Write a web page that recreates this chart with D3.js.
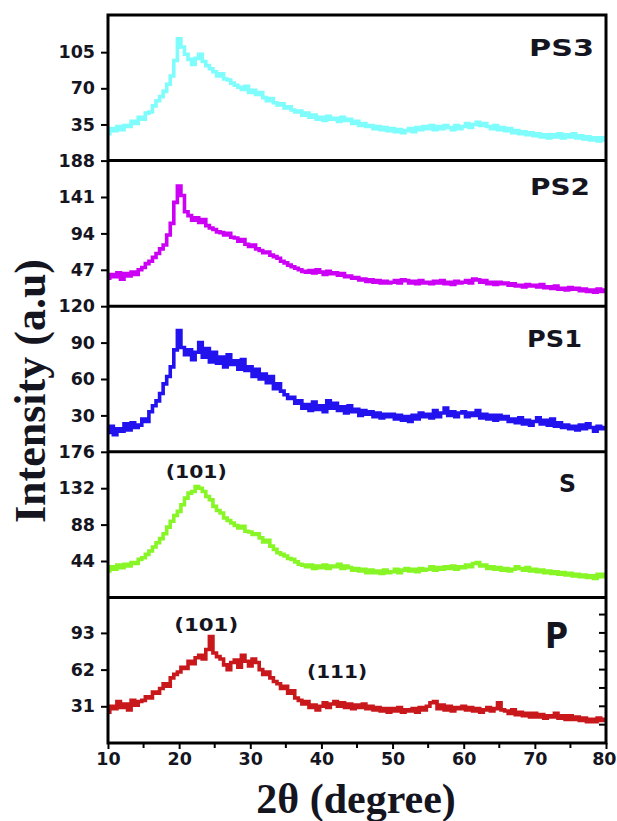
<!DOCTYPE html>
<html>
<head>
<meta charset="utf-8">
<script src="https://cdn.jsdelivr.net/npm/d3@7"></script>
<style>
  body { margin: 0; background: #fff; }
  text { fill: #15151f; }
</style>
</head>
<body>
<svg id="chart" width="617" height="821"></svg>
<script>
// 2-theta grid, 0.5 degree steps from 10 to 80
const twoTheta = d3.range(10, 80.001, 0.5);

// intensities, one value per 0.5 degree
const ps3 = [
  26,31,29,33,30,34,33,38,36,42, 40,46,47,53,58,62,67,74,82,97,
  118,110,103,98,93,99,103,96,92,89, 86,82,84,79,78,75,73,71,69,72,
  66,68,64,66,61,58,60,56,54,55, 51,52,49,47,48,44,46,42,44,40,
  42,39,43,40,41,38,42,39,40,36, 38,34,36,33,34,31,33,30,32,29,
  31,28,30,27,29,31,28,32,30,33, 31,34,30,33,31,34,32,30,34,31,
  33,36,32,35,37,34,36,33,31,34, 30,32,29,31,27,29,26,28,25,27,
  24,26,23,25,22,25,23,26,22,25, 23,26,22,24,21,23,20,22,19,22,
  20
];
const ps2 = [
  36,41,38,43,35,42,39,44,41,47, 50,55,58,63,68,74,79,92,107,134,
  155,143,122,117,111,114,108,112,104,101, 99,96,95,92,94,89,88,84,86,80,
  77,79,74,72,69,70,66,64,62,58, 56,53,51,49,47,45,44,46,43,47,
  44,41,45,42,43,40,42,38,39,36, 37,34,35,32,34,31,33,30,32,30,
  31,33,30,34,33,30,32,29,33,30, 31,29,32,30,33,29,31,28,32,30,
  31,33,30,35,34,31,33,29,31,28, 31,29,30,27,29,26,27,25,28,26,
  27,25,28,24,25,23,26,22,23,21, 24,22,23,20,22,19,21,18,22,19,
  21
];
const ps1 = [
  16,21,14,19,17,23,18,24,20,22, 27,25,33,38,42,48,56,62,70,84,
  100,86,80,84,76,82,90,78,85,74, 82,73,78,70,80,72,75,68,76,67,
  70,62,68,60,64,57,62,52,56,50, 47,44,45,40,42,36,39,34,41,35,
  38,33,42,36,40,34,37,32,38,33, 35,30,34,31,33,29,32,28,31,29,
  31,27,30,26,29,25,30,27,32,29, 31,28,34,29,32,36,30,33,29,32,
  33,29,32,30,34,28,31,27,30,26, 30,27,29,25,27,24,28,23,26,22,
  25,28,23,26,22,27,21,24,20,22, 19,21,18,22,19,23,20,17,21,19,
  20
];
const sS = [
  32,37,34,39,36,40,38,42,41,46, 48,52,56,61,66,71,77,85,92,99,
  104,112,120,126,128,134,132,128,122,118, 110,105,102,96,93,90,87,84,86,80,
  79,76,77,72,67,69,62,58,54,52, 50,47,46,43,40,39,37,39,35,38,
  36,39,35,38,37,40,35,38,36,33, 35,32,34,30,33,30,32,29,33,30,
  31,34,30,33,35,32,34,31,35,33, 34,37,33,36,34,37,35,38,34,37,
  36,39,37,41,42,38,39,35,37,34, 36,33,35,32,34,37,35,33,36,32,
  34,31,33,30,32,29,31,28,30,27, 29,26,28,25,27,24,26,23,28,25,
  28
];
const sP = [
  26,31,29,35,30,33,28,36,32,35, 36,39,38,43,42,46,50,48,55,58,
  60,64,63,69,67,72,74,71,79,90, 76,73,71,66,62,68,70,64,74,69,
  65,71,68,62,58,60,55,52,50,46, 48,42,44,38,36,33,35,30,32,28,
  31,34,30,33,35,31,34,30,33,29, 32,30,33,29,31,28,30,27,29,26,
  29,27,30,26,28,27,29,26,30,28, 31,34,35,29,32,28,31,27,30,29,
  31,28,30,27,29,26,28,30,27,29, 34,28,27,25,28,24,26,23,25,22,
  25,22,24,21,23,22,25,21,23,20, 23,20,22,19,21,18,20,18,21,19,
  20
];

const sampleNames = ["PS3", "PS2", "PS1", "S", "P"];
const sampleSeries = [ps3, ps2, ps1, sS, sP];
const sampleColors = ["#7ffcfc", "#cc00f4", "#2212ee", "#88f526", "#c8181c"];
const yMax = [141, 188, 120, 176, 123];
const yTickValues = [[35, 70, 105], [47, 94, 141, 188], [30, 60, 90, 120], [44, 88, 132, 176], [31, 62, 93]];
const xTickValues = [10, 20, 30, 40, 50, 60, 70, 80];
const xMinorTicks = [15, 25, 35, 45, 55, 65, 75];
const pMinorTicks = [15.5, 31, 46.5, 62, 77.5, 93, 108.5];

// peak annotations: panel index, 2theta, intensity
const peakText = ["(101)", "(101)", "(111)"];
const peakPanel = [3, 4, 4];
const peakX = [22.4, 23.8, 42.2];
const peakY = [144, 95, 55];
const peakWidth = [61, 64, 60];

const plotLeft = 108, plotRight = 606, plotTop = 15, plotBottom = 743;
const panelH = (plotBottom - plotTop) / sampleNames.length;

const svg = d3.select("#chart");

const x = d3.scaleLinear().domain([10, 80]).range([plotLeft, plotRight]);

const labelFont = "DejaVu Sans, Verdana, sans-serif";

sampleNames.forEach(function(name, i) {
    const y0 = plotTop + i * panelH;
    const y = d3.scaleLinear().domain([0, yMax[i]]).range([y0 + panelH, y0]);

    const clipId = "clip" + i;
    svg.append("clipPath").attr("id", clipId)
        .append("rect")
        .attr("x", plotLeft).attr("y", y0)
        .attr("width", plotRight - plotLeft).attr("height", panelH);

    // stepped trace, like the raw diffractometer output
    const line = d3.line()
        .curve(d3.curveStep)
        .x(function(d, k) { return x(twoTheta[k]); })
        .y(function(d) { return y(d); });

    svg.append("path")
        .datum(sampleSeries[i])
        .attr("clip-path", "url(#" + clipId + ")")
        .attr("fill", "none")
        .attr("stroke", sampleColors[i])
        .attr("stroke-width", 3.6)
        .attr("stroke-linejoin", "miter")
        .attr("d", line);

    // left axis
    const ax = svg.append("g")
        .attr("transform", "translate(" + plotLeft + ",0)")
        .call(d3.axisLeft(y).tickValues(yTickValues[i]).tickSize(7).tickPadding(6));
    ax.select(".domain").remove();
    ax.selectAll("line").attr("stroke", "#000").attr("stroke-width", 2);
    ax.selectAll("text")
        .attr("font-family", labelFont)
        .attr("font-weight", "bold")
        .attr("font-size", 17.5)
        .attr("fill", "#15151f");

    // sample name
    const nameX = [594, 590, 582, 576, 568];
    const nameY = [56, 195, 347, 492, 648];
    const nameW = [65, 60, 55, 17, 23];
    const nameSize = [23, 23, 23, 24, 35];
    svg.append("text")
        .attr("x", nameX[i] - nameW[i]).attr("y", nameY[i])
        .attr("textLength", nameW[i])
        .attr("lengthAdjust", "spacingAndGlyphs")
        .attr("font-family", labelFont)
        .attr("font-weight", "bold")
        .attr("font-size", nameSize[i])
        .text(name);

    // peak labels in this panel
    peakText.forEach(function(t, k) {
        if (peakPanel[k] !== i) return;
        svg.append("text")
            .attr("x", x(peakX[k]) - peakWidth[k] / 2)
            .attr("y", y(peakY[k]))
            .attr("textLength", peakWidth[k])
            .attr("lengthAdjust", "spacingAndGlyphs")
            .attr("font-family", labelFont)
            .attr("font-weight", "bold")
            .attr("font-size", 18)
            .text(t);
    });

    // inward minor ticks on the right side of the bottom panel
    if (i === sampleNames.length - 1) {
        svg.append("g").selectAll("line")
            .data(pMinorTicks)
            .enter().append("line")
            .attr("x1", plotRight).attr("x2", plotRight - 7)
            .attr("y1", function(d) { return y(d); })
            .attr("y2", function(d) { return y(d); })
            .attr("stroke", "#000").attr("stroke-width", 2);
    }

    // panel separator
    if (i > 0) {
        svg.append("line")
            .attr("x1", plotLeft).attr("x2", plotRight)
            .attr("y1", y0).attr("y2", y0)
            .attr("stroke", "#000").attr("stroke-width", 3);
    }
});

// bottom axis
const xAxis = svg.append("g")
    .attr("transform", "translate(0," + plotBottom + ")")
    .call(d3.axisBottom(x).tickValues(xTickValues).tickSize(6).tickPadding(4));
xAxis.select(".domain").remove();
xAxis.selectAll("line").attr("stroke", "#000").attr("stroke-width", 2);
xAxis.selectAll("text")
    .attr("font-family", labelFont)
    .attr("font-weight", "bold")
    .attr("font-size", 17.5)
    .attr("fill", "#15151f");
// last label sits against the page edge
xAxis.selectAll(".tick").filter(function(d) { return d === 80; })
    .select("text")
    .attr("text-anchor", "end")
    .attr("x", 616 - plotRight);

svg.append("g").selectAll("line")
    .data(xMinorTicks)
    .enter().append("line")
    .attr("x1", function(d) { return x(d); })
    .attr("x2", function(d) { return x(d); })
    .attr("y1", plotBottom).attr("y2", plotBottom + 5)
    .attr("stroke", "#000").attr("stroke-width", 2);

// frame
svg.append("rect")
    .attr("x", plotLeft).attr("y", plotTop)
    .attr("width", plotRight - plotLeft).attr("height", plotBottom - plotTop)
    .attr("fill", "none")
    .attr("stroke", "#000")
    .attr("stroke-width", 3);

// axis titles
svg.append("text")
    .attr("x", 356).attr("y", 813)
    .attr("text-anchor", "middle")
    .attr("font-family", "Liberation Serif, Times New Roman, serif")
    .attr("font-weight", "bold")
    .attr("font-size", 42)
    .text("2θ (degree)");

svg.append("text")
    .attr("transform", "translate(45,391) rotate(-90)")
    .attr("text-anchor", "middle")
    .attr("font-family", "Liberation Serif, Times New Roman, serif")
    .attr("font-weight", "bold")
    .attr("font-size", 44)
    .text("Intensity (a.u)");
</script>
</body>
</html>
